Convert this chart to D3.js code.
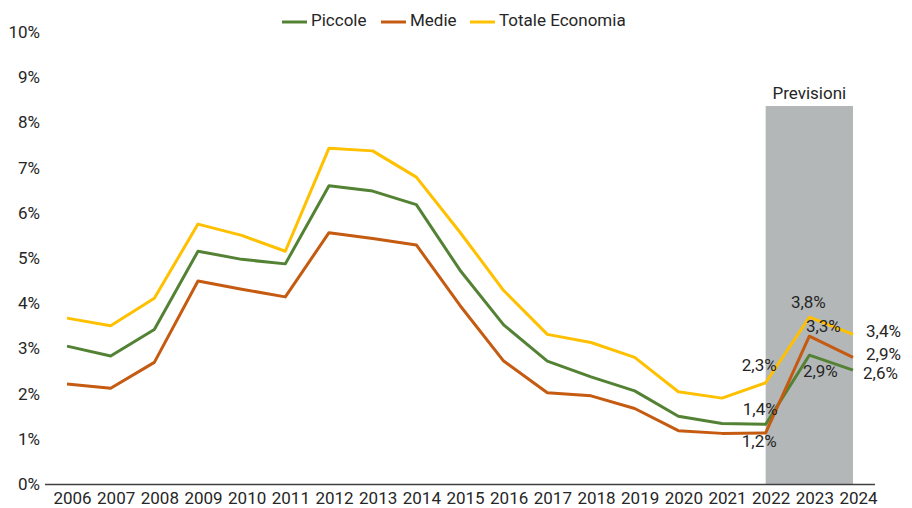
<!DOCTYPE html>
<html>
<head>
<meta charset="utf-8">
<script src="https://cdn.jsdelivr.net/npm/d3@7"></script>
<style>
  body { margin: 0; background: #fff; }
  svg text { font-family: "Roboto", sans-serif; fill: #262626; }
</style>
</head>
<body>
<div id="container"></div>
<script>
const width = 912, height = 508;

const years = ["2006","2007","2008","2009","2010","2011","2012","2013","2014","2015",
               "2016","2017","2018","2019","2020","2021","2022","2023","2024"];
const piccole = [3.05, 2.83, 3.42, 5.15, 4.97, 4.87, 6.60, 6.48, 6.18, 4.73,
                 3.52, 2.72, 2.37, 2.06, 1.50, 1.34, 1.32, 2.85, 2.52];
const medie = [2.21, 2.12, 2.69, 4.49, 4.31, 4.14, 5.56, 5.43, 5.29, 3.95,
               2.72, 2.02, 1.95, 1.67, 1.18, 1.12, 1.13, 3.27, 2.80];
const totale = [3.67, 3.50, 4.11, 5.75, 5.50, 5.15, 7.43, 7.37, 6.79, 5.57,
                4.28, 3.31, 3.13, 2.80, 2.04, 1.90, 2.24, 3.69, 3.31];
const yTicks = [0, 1, 2, 3, 4, 5, 6, 7, 8, 9, 10];
const forecastYears = ["2022", "2024"];

// value labels shown on the chart (offsets relative to the point)
const labels = [
  { year: "2022", text: "2,3%", s: "totale", dx: 11, dy: -16, anchor: "end" },
  { year: "2022", text: "1,4%", s: "piccole", dx: 12, dy: -14, anchor: "end" },
  { year: "2022", text: "1,2%", s: "medie", dx: 11, dy: 10, anchor: "end" },
  { year: "2023", text: "3,8%", s: "totale", dx: -1, dy: -14, anchor: "middle" },
  { year: "2023", text: "3,3%", s: "medie", dx: 14, dy: -9, anchor: "middle" },
  { year: "2023", text: "2,9%", s: "piccole", dx: 11, dy: 17, anchor: "middle" },
  { year: "2024", text: "3,4%", s: "totale", dx: 13, dy: -2, anchor: "start" },
  { year: "2024", text: "2,9%", s: "medie", dx: 13, dy: -2, anchor: "start" },
  { year: "2024", text: "2,6%", s: "piccole", dx: 10, dy: 4, anchor: "start" }
];

const series = [
  { key: "piccole", name: "Piccole", values: piccole, color: "#548235" },
  { key: "medie", name: "Medie", values: medie, color: "#C55A11" },
  { key: "totale", name: "Totale Economia", values: totale, color: "#FFC000" }
];
const byKey = {};
series.forEach(s => byKey[s.key] = s);

const xScale = d3.scalePoint()
  .domain(years)
  .range([67, 853]);

const yScale = d3.scaleLinear()
  .domain([0, 10])
  .range([484, 32]);

const svg = d3.select("#container")
  .append("svg")
  .attr("width", width)
  .attr("height", height);

// forecast band
svg.append("rect")
  .attr("x", xScale(forecastYears[0]))
  .attr("y", 106)
  .attr("width", xScale(forecastYears[1]) - xScale(forecastYears[0]))
  .attr("height", yScale(0) - 106)
  .attr("fill", "#B4B7B8");

svg.append("text")
  .attr("x", (xScale(forecastYears[0]) + xScale(forecastYears[1])) / 2)
  .attr("y", 99)
  .attr("text-anchor", "middle")
  .style("font-size", "17px")
  .text("Previsioni");

// y axis labels
const yAxis = svg.append("g")
  .attr("transform", "translate(40,0)")
  .call(d3.axisLeft(yScale).tickValues(yTicks).tickSize(0).tickPadding(0).tickFormat(d => d + "%"));
yAxis.select(".domain").remove();
yAxis.selectAll("text").style("font-size", "17px").style("font-family", null);

// x axis (labels sit a little right of the points, like the original)
const xAxis = svg.append("g")
  .attr("transform", `translate(5,${yScale(0)})`)
  .call(d3.axisBottom(xScale).tickSize(0).tickPadding(8));
xAxis.select(".domain").remove();
xAxis.selectAll("text").style("font-size", "17px").style("font-family", null);

svg.append("line")
  .attr("x1", 45).attr("x2", 875)
  .attr("y1", yScale(0) + 0.5).attr("y2", yScale(0) + 0.5)
  .attr("stroke", "#404040")
  .attr("stroke-width", 1.5);

// lines
const line = d3.line()
  .x((d, i) => xScale(years[i]))
  .y(d => yScale(d));

svg.selectAll("path.series")
  .data(series)
  .join("path")
  .attr("class", "series")
  .attr("d", d => line(d.values))
  .attr("fill", "none")
  .attr("stroke", d => d.color)
  .attr("stroke-width", 3)
  .attr("stroke-linejoin", "round");

// value labels
svg.selectAll("text.vlabel")
  .data(labels)
  .join("text")
  .attr("class", "vlabel")
  .attr("x", d => xScale(d.year) + d.dx)
  .attr("y", d => yScale(byKey[d.s].values[years.indexOf(d.year)]) + d.dy)
  .attr("text-anchor", d => d.anchor)
  .attr("dominant-baseline", "middle")
  .style("font-size", "17px")
  .text(d => d.text);

// legend
const legendX = [282, 381, 470];
const legend = svg.selectAll("g.legend")
  .data(series)
  .join("g")
  .attr("class", "legend")
  .attr("transform", (d, i) => `translate(${legendX[i]},22)`);

legend.append("line")
  .attr("x1", 0).attr("x2", 25)
  .attr("stroke", d => d.color)
  .attr("stroke-width", 3);

legend.append("text")
  .attr("x", 29)
  .attr("dominant-baseline", "middle")
  .style("font-size", "17px")
  .text(d => d.name);
</script>
</body>
</html>
